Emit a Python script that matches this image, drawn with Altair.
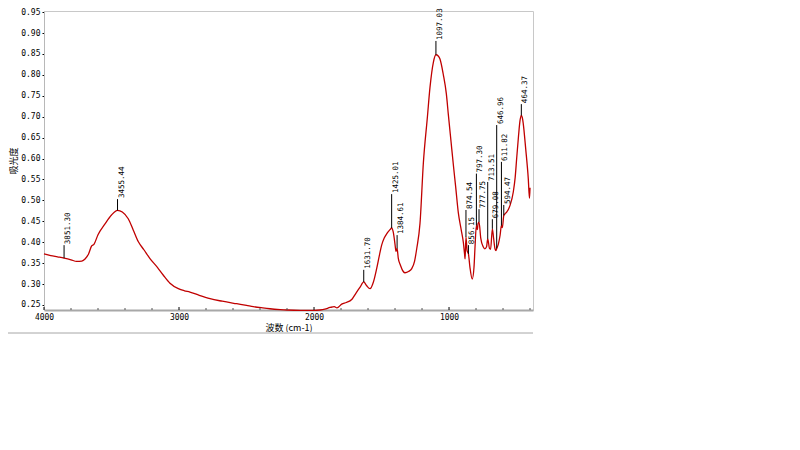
import altair as alt
import pandas as pd

# ---- spectrum ----
wavenumber = [4000, 3950, 3900, 3851.30, 3800, 3758, 3720, 3696, 3670, 3647, 3630, 3600,
              3548, 3500, 3455.44, 3420, 3376, 3340, 3301, 3260, 3215, 3160, 3116, 3067,
              3005, 2960, 2919, 2850, 2770, 2680, 2573, 2500, 2450, 2380, 2326, 2250, 2202,
              2100, 2000, 1956, 1920, 1881, 1850, 1830, 1795, 1760, 1721, 1690, 1660, 1631.70,
              1610, 1585, 1560, 1536, 1515, 1499, 1480, 1462, 1437, 1425.01, 1413, 1400, 1393,
              1384.61, 1376, 1360, 1339, 1326, 1300, 1276, 1255, 1239, 1215, 1190, 1160, 1141,
              1116, 1097.03, 1080, 1067, 1042, 1020, 1005, 985, 968, 950, 931, 910, 894, 885,
              881, 874.54, 866, 856.15, 845, 828, 815, 808, 797.30, 790, 785, 777.75, 765, 747,
              735, 722, 713.51, 700, 692, 679.08, 670, 660, 652, 646.96, 635, 622, 611.82, 605,
              594.47, 585, 573, 548, 524, 510, 499, 485, 474, 464.37, 457, 450, 432, 413, 404, 400]
absorbance = [0.372, 0.368, 0.365, 0.362, 0.358, 0.354, 0.355, 0.360, 0.372, 0.391, 0.395, 0.418,
              0.444, 0.465, 0.476, 0.472, 0.456, 0.430, 0.401, 0.382, 0.361, 0.340, 0.321, 0.302,
              0.289, 0.284, 0.281, 0.273, 0.265, 0.259, 0.253, 0.249, 0.246, 0.243, 0.241, 0.239, 0.238,
              0.237, 0.237, 0.238, 0.240, 0.244, 0.246, 0.243, 0.252, 0.256, 0.263, 0.278, 0.292, 0.305,
              0.296, 0.289, 0.305, 0.337, 0.370, 0.393, 0.410, 0.420, 0.430, 0.434, 0.424, 0.395, 0.378,
              0.385, 0.362, 0.345, 0.330, 0.327, 0.330, 0.337, 0.355, 0.385, 0.445, 0.590, 0.700, 0.770,
              0.830, 0.848, 0.845, 0.838, 0.800, 0.755, 0.705, 0.640, 0.585, 0.530, 0.470, 0.430, 0.400, 0.372,
              0.360, 0.412, 0.380, 0.372, 0.340, 0.312, 0.340, 0.385, 0.440, 0.430, 0.445, 0.448, 0.410, 0.389,
              0.384, 0.389, 0.408, 0.385, 0.383, 0.432, 0.410, 0.385, 0.380, 0.385, 0.395, 0.416, 0.440, 0.435,
              0.464, 0.468, 0.472, 0.488, 0.520, 0.555, 0.600, 0.655, 0.691, 0.703, 0.698, 0.683, 0.623, 0.552, 0.505, 0.530]

# ---- peak annotations ----
peak_wn = [3851.30, 3455.44, 1631.70, 1425.01, 1384.61, 1097.03, 874.54, 856.15,
           797.30, 777.75, 713.51, 679.08, 646.96, 611.82, 594.47, 464.37]
peak_base = [0.362, 0.476, 0.305, 0.434, 0.385, 0.848, 0.412, 0.372,
             0.440, 0.448, 0.408, 0.432, 0.385, 0.440, 0.464, 0.703]
peak_top = [0.393, 0.503, 0.334, 0.515, 0.417, 0.881, 0.477, 0.393,
            0.564, 0.479, 0.544, 0.455, 0.680, 0.592, 0.489, 0.730]
peak_label = ["3851.30", "3455.44", "1631.70", "1425.01", "1384.61", "1097.03", "874.54", "856.15",
              "797.30", "777.75", "713.51", "679.08", "646.96", "611.82", "594.47", "464.37"]

# ---- axes ----
x_major = [4000, 3000, 2000, 1000]
x_minor = [3800, 3600, 3400, 3200, 2800, 2600, 2400, 2200, 1800, 1600, 1400, 1200, 800, 600, 400]
y_ticks = [0.25, 0.30, 0.35, 0.40, 0.45, 0.50, 0.55, 0.60, 0.65, 0.70, 0.75, 0.80, 0.85, 0.90, 0.95]

spec = pd.DataFrame({"wn": wavenumber, "abs": absorbance})
peaks = pd.DataFrame({"wn": peak_wn, "abs": peak_base, "top": peak_top, "label": peak_label})
majors = pd.DataFrame({"wn": x_major})
minors = pd.DataFrame({"wn": x_minor})

W, H = 489, 299
xscale = alt.Scale(domain=[378, 4000], reverse=True, nice=False, zero=False)
yscale = alt.Scale(domain=[0.238, 0.9526], nice=False, zero=False)

xaxis = alt.Axis(values=x_major, format="d", title="波数 (cm-1)", tickSize=0,
                 labelPadding=3, titlePadding=2, labelFlush=False)
yaxis = alt.Axis(values=y_ticks, format=".2f", title="吸光度", tickSize=2,
                 labelPadding=2, titlePadding=2, labelFlush=False)

line = alt.Chart(spec).mark_line(color="#c00000", strokeWidth=1.3, interpolate="monotone").encode(
    x=alt.X("wn:Q", scale=xscale, axis=xaxis),
    y=alt.Y("abs:Q", scale=yscale, axis=yaxis),
)

rules = alt.Chart(peaks).mark_rule(color="black", strokeWidth=1).encode(
    x=alt.X("wn:Q", scale=xscale, axis=xaxis),
    y=alt.Y("abs:Q", scale=yscale, axis=yaxis),
    y2="top:Q",
)

labels = alt.Chart(peaks).mark_text(
    angle=270, align="left", baseline="top", dx=1,
    font="DejaVu Sans Mono", fontSize=7.5, color="black"
).encode(
    x=alt.X("wn:Q", scale=xscale, axis=xaxis),
    y=alt.Y("top:Q", scale=yscale, axis=yaxis),
    text="label:N",
)

major_ticks = alt.Chart(majors).mark_rule(color="black", strokeWidth=1).encode(
    x=alt.X("wn:Q", scale=xscale, axis=xaxis),
    y=alt.value(H), y2=alt.value(H - 3),
)
minor_ticks = alt.Chart(minors).mark_rule(color="#555555", strokeWidth=1).encode(
    x=alt.X("wn:Q", scale=xscale, axis=xaxis),
    y=alt.value(H), y2=alt.value(H - 2),
)

# light outer frame line below the axis title (decoration)
frame = alt.Chart(majors).mark_rule(color="#d0d0d0", strokeWidth=1).encode(
    x=alt.value(-36), x2=alt.value(W), y=alt.value(H + 23),
)

chart = alt.layer(line, rules, labels, major_ticks, minor_ticks, frame).properties(
    width=W, height=H,
    autosize=alt.AutoSizeParams(type="none"),
    padding={"left": 36, "top": 3, "right": 12, "bottom": 30},
).configure_view(
    stroke="#c8c8c8", strokeWidth=1
).configure_axis(
    grid=False,
    labelFont="DejaVu Sans Mono", labelFontSize=8, labelColor="black",
    titleFont="Noto Sans CJK SC", titleFontSize=9, titleFontWeight="normal", titleColor="black",
    tickColor="black",
).configure_axisX(
    domainColor="#a8a8a8", domainWidth=2,
).configure_axisY(
    domainColor="#b8b8b8", domainWidth=1,
)

chart.save("out.html", embed_options={"renderer": "svg", "actions": False})
